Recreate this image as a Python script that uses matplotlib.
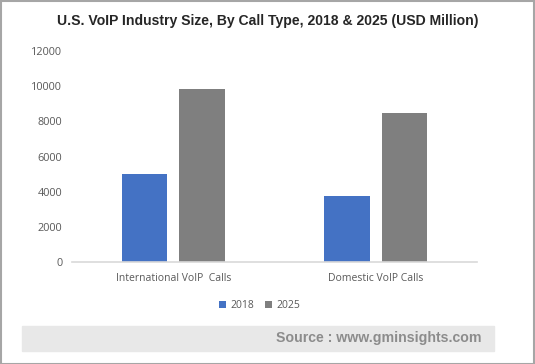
import matplotlib
matplotlib.use("Agg")
import matplotlib.pyplot as plt
import numpy as np
from matplotlib.patches import Rectangle

# chart data
categories = ["International VoIP  Calls", "Domestic VoIP Calls"]
years = ["2018", "2025"]
values_2018 = [4980, 3740]
values_2025 = [9860, 8500]
yticks = [0, 2000, 4000, 6000, 8000, 10000, 12000]

colors = ["#4472C4", "#7F7F7F"]
tick_color = "#595959"

fig = plt.figure(figsize=(5.35, 3.64), dpi=100)
ax = fig.add_axes([0.1346, 0.2802, 0.757, 0.5797])

x = np.arange(len(categories))
w = 0.225
off = 0.1425
ax.bar(x - off, values_2018, w, color=colors[0], label=years[0])
ax.bar(x + off, values_2025, w, color=colors[1], label=years[1])

ax.set_xlim(-0.5, len(categories) - 0.5)
ax.set_ylim(0, 12000)
ax.set_yticks(yticks)
ax.set_yticklabels([str(v) for v in yticks])
ax.set_xticks(x)
ax.set_xticklabels(categories)

for s in ["top", "right", "left"]:
    ax.spines[s].set_visible(False)
ax.spines["bottom"].set_color("#D9D9D9")
ax.spines["bottom"].set_linewidth(1.2)
ax.tick_params(axis="both", length=0, labelsize=7.8, colors=tick_color)
ax.tick_params(axis="y", pad=7)
ax.tick_params(axis="x", pad=8, labelsize=7.5)
for lbl in ax.get_xticklabels() + ax.get_yticklabels():
    lbl.set_fontfamily("Open Sans")

# title
fig.text(0.5, 0.942, "U.S. VoIP Industry Size, By Call Type, 2018 & 2025 (USD Million)",
         ha="center", va="center", fontsize=10.1, fontweight="bold",
         color="#262626", family="Liberation Sans")

# legend
leg = fig.legend(loc="center", bbox_to_anchor=(0.485, 0.16), ncol=2, frameon=False,
                 handlelength=0.7, handleheight=0.7, handletextpad=0.4,
                 columnspacing=1.0, prop={"family": "Open Sans", "size": 7.5})
for t in leg.get_texts():
    t.set_color(tick_color)

# source band
fig.patches.append(Rectangle((22 / 535, 1 - 351 / 364), 472 / 535, 25 / 364,
                             transform=fig.transFigure, color="#E8E8E8", zorder=0))
fig.text(481 / 535, 1 - 338 / 364, "Source : www.gminsights.com", ha="right", va="center",
         fontsize=10.2, fontweight="bold", color="#8C8C8C", family="Liberation Sans")

# outer border
fig.patches.append(Rectangle((0.001, 0.001), 0.997, 0.996, transform=fig.transFigure,
                             fill=False, edgecolor="#A6A6A6", linewidth=1.5))

fig.savefig("out.png", dpi=100)
